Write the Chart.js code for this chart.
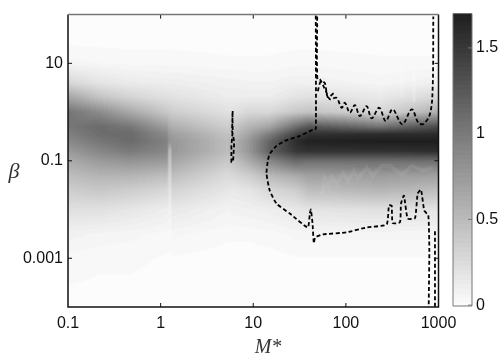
<!DOCTYPE html>
<html lang="en-US">
  <head>
    <meta charset="utf-8" />
    <title>M* beta map</title>
    <style>
      html, body { margin: 0; background: #fff; }
      .wrap { position: relative; width: 498px; height: 363px; overflow: hidden; }
      canvas { position: absolute; top: 0; }
    </style>
  </head>
  <body>
    <div class="wrap">
      <canvas id="map" width="498" height="363" style="left:0"></canvas>
      <canvas id="bar" width="58" height="363" style="left:440px"></canvas>
    </div>
  <script src="https://cdn.jsdelivr.net/npm/chart.js@4.4.0/dist/chart.umd.min.js"></script>
  <script>
    // tick labels
    const xTickValues = [0.1, 1, 10, 100, 1000];
    const xTickLabels = ["0.1", "1", "10", "100", "1000"];
    const yTickValues = [10, 0.1, 0.001];
    const yTickLabels = ["10", "0.1", "0.001"];
    const barTickValues = [0, 0.5, 1, 1.5];
    const barTickLabels = ["0", "0.5", "1", "1.5"];

    // heat map: columns are log10(M*), rows are log10(beta)
    const logMColumns = [-1, -0.66, -0.33, 0.07, 0.09, 0.115, 0.12, 0.72, 0.78, 0.96, 1.18, 1.46, 1.6, 2.37, 3];
    const logBetaRows = [2, 1.5, 1, 0.6, 0.3, 0, -0.3, -0.45, -0.6, -0.8, -1, -1.3, -1.6, -2, -2.5, -3, -4];
    const heatValues = [
      [0, 0, 0.05, 0.28, 0.67, 1.03, 1.02, 0.95, 0.88, 0.75, 0.62, 0.48, 0.36, 0.21, 0.08, 0.03, 0],
      [0, 0, 0.04, 0.18, 0.44, 0.86, 1.11, 1.09, 1.03, 0.90, 0.75, 0.55, 0.40, 0.21, 0.06, 0.02, 0],
      [0, 0, 0.03, 0.13, 0.31, 0.63, 1.02, 1.12, 1.11, 1.00, 0.80, 0.55, 0.36, 0.17, 0.05, 0.02, 0],
      [0, 0, 0.03, 0.11, 0.21, 0.40, 0.71, 0.86, 0.94, 0.90, 0.75, 0.48, 0.28, 0.11, 0.03, 0.01, 0],
      [0, 0, 0.03, 0.11, 0.21, 0.38, 0.62, 0.74, 0.80, 0.52, 0.44, 0.31, 0.20, 0.09, 0.03, 0.01, 0],
      [0, 0, 0.03, 0.11, 0.21, 0.38, 0.62, 0.74, 0.80, 0.52, 0.44, 0.31, 0.20, 0.09, 0.03, 0.01, 0],
      [0, 0, 0.03, 0.11, 0.20, 0.36, 0.59, 0.71, 0.78, 0.77, 0.67, 0.48, 0.31, 0.15, 0.05, 0.01, 0],
      [0, 0, 0.02, 0.08, 0.12, 0.21, 0.36, 0.44, 0.49, 0.49, 0.40, 0.26, 0.17, 0.07, 0.02, 0, 0],
      [0, 0, 0.02, 0.08, 0.12, 0.21, 0.40, 0.48, 0.55, 0.55, 0.44, 0.28, 0.15, 0.08, 0.02, 0, 0],
      [0, 0, 0.02, 0.07, 0.12, 0.28, 0.55, 0.67, 0.78, 0.78, 0.63, 0.36, 0.18, 0.09, 0.02, 0, 0],
      [0, 0, 0.02, 0.07, 0.12, 0.28, 0.67, 0.97, 1.17, 1.20, 0.90, 0.52, 0.28, 0.11, 0.03, 0, 0],
      [0, 0, 0.03, 0.09, 0.19, 0.40, 1.09, 1.40, 1.59, 1.51, 1.13, 0.63, 0.36, 0.15, 0.05, 0.01, 0],
      [0, 0, 0.03, 0.09, 0.21, 0.44, 1.28, 1.55, 1.68, 1.55, 1.09, 0.70, 0.48, 0.18, 0.05, 0.01, 0],
      [0, 0, 0.02, 0.05, 0.15, 0.28, 1.05, 1.59, 1.70, 1.55, 1.09, 0.74, 0.55, 0.21, 0.05, 0.01, 0],
      [0, 0, 0.02, 0.09, 0.28, 0.59, 1.36, 1.59, 1.70, 1.59, 1.09, 0.70, 0.48, 0.18, 0.05, 0.01, 0]
    ];

    // dashed contours, log10(M*) and log10(beta)
    const leftContourLogM = [1.675, 1.676, 1.654, 1.503, 1.341, 1.251, 1.178, 1.157, 1.143, 1.178, 1.251, 1.395, 1.589, 1.611, 1.622, 1.640, 1.654, 1.668, 1.751, 2.008, 2.224, 2.440, 2.465, 2.494, 2.505, 2.584, 2.595, 2.627, 2.667, 2.746, 2.775, 2.811, 2.846, 2.890, 2.901, 2.894];
    const leftContourLogBeta = [1.980, -0.347, -0.353, -0.490, -0.592, -0.694, -0.857, -1, -1.265, -1.612, -1.878, -2.082, -2.367, -2.082, -2, -2.286, -2.694, -2.571, -2.510, -2.469, -2.367, -2.306, -1.918, -1.918, -2.280, -2.259, -1.878, -1.714, -2.184, -2.178, -1.673, -1.592, -2.020, -2.122, -2.837, -3.994];
    const upperContourLogM = [1.690, 1.692, 1.719, 1.784, 1.827, 1.899, 1.954, 1.989, 2.043, 2.097, 2.151, 2.224, 2.278, 2.360, 2.430, 2.505, 2.609, 2.711, 2.782, 2.836, 2.908, 2.937, 2.944];
    const upperContourLogBeta = [1.959, 0.673, 0.673, 0.429, 0.265, 0.292, 0.088, 0.190, -0.014, 0.143, -0.082, 0.122, -0.129, 0.088, -0.184, 0.055, -0.251, 0.055, -0.218, -0.245, -0.041, 0.496, 1.959];
    const branchContourLogM = [1.697, 1.730, 1.773, 1.805, 1.870];
    const branchContourLogBeta = [0.429, 0.633, 0.592, 0.306, 0.388];
    const loopContourLogM = [0.778, 0.771, 0.795, 0.782, 0.764, 0.764, 0.778, 0.775];
    const loopContourLogBeta = [0.020, -0.388, -0.612, -1.020, -1.020, -0.694, -0.388, 0.020];
    const cornerContourLogM = [2.962, 2.962, 3];
    const cornerContourLogBeta = [-3.994, -2.463, -2.463];

    // pale saw-tooth ridge under the band, and two pale streaks above it
    const ridgeLogM = [1.751, 1.773, 1.816, 1.849, 1.903, 1.968, 2.022, 2.086, 2.130, 2.227, 2.292, 2.389, 2.476, 2.605, 2.714, 2.832, 2.941];
    const ridgeLogBeta = [-1.673, -1.367, -1.531, -1.327, -1.469, -1.245, -1.408, -1.204, -1.367, -1.143, -1.306, -1.102, -1.102, -1.286, -1.102, -1.204, -1.143];
    const streakOneLogM = [2.605, 2.605];
    const streakOneLogBeta = [1.4, 0.3];
    const streakTwoLogM = [2.735, 2.735];
    const streakTwoLogBeta = [1.0, 0.2];

    const FONT = "'Liberation Sans', Helvetica, Arial, sans-serif";
    const SERIF = "'Liberation Serif', serif";
    const LEVELS = 64;

    // same look as colormap(1-gray) with 64 steps
    function grayFor(v) {
      let level = Math.round(Math.min(Math.max(v, 0), 1.7) / 1.7 * (LEVELS - 1)) / (LEVELS - 1);
      return Math.round(252 - level * 222);
    }

    function heatAt(logM, logBeta) {
      let c = 0;
      while (c < logMColumns.length - 2 && logM > logMColumns[c + 1]) c++;
      let r = 0;
      while (r < logBetaRows.length - 2 && logBeta < logBetaRows[r + 1]) r++;
      let tx = (logM - logMColumns[c]) / (logMColumns[c + 1] - logMColumns[c]);
      let ty = (logBeta - logBetaRows[r]) / (logBetaRows[r + 1] - logBetaRows[r]);
      tx = Math.min(Math.max(tx, 0), 1);
      ty = Math.min(Math.max(ty, 0), 1);
      let a = heatValues[c][r] * (1 - ty) + heatValues[c][r + 1] * ty;
      let b = heatValues[c + 1][r] * (1 - ty) + heatValues[c + 1][r + 1] * ty;
      return a * (1 - tx) + b * tx;
    }

    const heatPlugin = {
      id: "heat",
      beforeDatasetsDraw(chart) {
        const { ctx, chartArea: area, scales } = chart;
        let w = Math.ceil(area.right - area.left);
        let h = Math.ceil(area.bottom - area.top);
        let off = document.createElement("canvas");
        off.width = w;
        off.height = h;
        let offCtx = off.getContext("2d");
        let img = offCtx.createImageData(w, h);
        for (let j = 0; j < h; j++) {
          let logBeta = Math.log10(scales.y.getValueForPixel(area.top + j + 0.5));
          for (let i = 0; i < w; i++) {
            let logM = Math.log10(scales.x.getValueForPixel(area.left + i + 0.5));
            let g = grayFor(heatAt(logM, logBeta));
            let k = (j * w + i) * 4;
            img.data[k] = img.data[k + 1] = img.data[k + 2] = g;
            img.data[k + 3] = 255;
          }
        }
        offCtx.putImageData(img, 0, 0);
        ctx.drawImage(off, area.left, area.top);
      }
    };

    const framePlugin = {
      id: "frame",
      afterDatasetsDraw(chart) {
        const { ctx, chartArea: area, scales } = chart;
        ctx.save();
        ctx.lineWidth = 1;
        ctx.strokeStyle = "#111";
        ctx.beginPath();
        xTickValues.slice(1, -1).forEach((v) => {
          let px = scales.x.getPixelForValue(v);
          ctx.moveTo(px, area.bottom); ctx.lineTo(px, area.bottom - 4);
          ctx.moveTo(px, area.top); ctx.lineTo(px, area.top + 4);
        });
        yTickValues.forEach((v) => {
          let py = scales.y.getPixelForValue(v);
          ctx.moveTo(area.left, py); ctx.lineTo(area.left + 4, py);
          ctx.moveTo(area.right, py); ctx.lineTo(area.right - 4, py);
        });
        ctx.stroke();
        ctx.lineWidth = 1.5;
        ctx.strokeStyle = "#111";
        ctx.beginPath();
        ctx.moveTo(area.right, area.top);
        ctx.lineTo(area.right, area.bottom);
        ctx.lineTo(area.left, area.bottom);
        ctx.lineTo(area.left, area.top);
        ctx.stroke();
        ctx.strokeStyle = "#777";
        ctx.beginPath();
        ctx.moveTo(area.left, area.top);
        ctx.lineTo(area.right, area.top);
        ctx.stroke();
        // both axis names sit off the usual title spots, beta stays upright
        ctx.fillStyle = "#333";
        ctx.textAlign = "center";
        ctx.textBaseline = "middle";
        ctx.font = "italic 22px " + SERIF;
        ctx.fillText("\u03b2", 14, 172);
        ctx.font = "italic 20px " + SERIF;
        ctx.fillText("M*", 268, 348);
        ctx.restore();
      }
    };

    function contour(logM, logBeta, tension) {
      return {
        data: logM.map((m, i) => ({ x: Math.pow(10, m), y: Math.pow(10, logBeta[i]) })),
        showLine: true,
        borderColor: "#000",
        borderWidth: 1.8,
        borderDash: [4, 2.5],
        pointRadius: 0,
        tension: tension
      };
    }

    function paleLine(logM, logBeta, color, width) {
      return {
        data: logM.map((m, i) => ({ x: Math.pow(10, m), y: Math.pow(10, logBeta[i]) })),
        showLine: true,
        borderColor: color,
        borderWidth: width,
        pointRadius: 0,
        tension: 0
      };
    }

    new Chart(document.getElementById("map"), {
      type: "scatter",
      data: {
        datasets: [
          contour(leftContourLogM, leftContourLogBeta, 0.15),
          contour(upperContourLogM, upperContourLogBeta, 0.35),
          contour(branchContourLogM, branchContourLogBeta, 0.3),
          contour(loopContourLogM, loopContourLogBeta, 0),
          contour(cornerContourLogM, cornerContourLogBeta, 0),
          paleLine(ridgeLogM, ridgeLogBeta, "rgba(255,255,255,0.07)", 4),
          paleLine(streakOneLogM, streakOneLogBeta, "rgba(255,255,255,0.2)", 3),
          paleLine(streakTwoLogM, streakTwoLogBeta, "rgba(255,255,255,0.2)", 3)
        ]
      },
      plugins: [heatPlugin, framePlugin],
      options: {
        responsive: false,
        animation: false,
        layout: { padding: { top: 13, right: 59.5, left: 0, bottom: 0 } },
        plugins: { legend: { display: false }, tooltip: { enabled: false } },
        scales: {
          x: {
            type: "logarithmic",
            min: 0.1,
            max: 1000,
            grid: { display: false, drawTicks: false },
            border: { display: false },
            afterBuildTicks: (axis) => { axis.ticks = xTickValues.map((value) => ({ value })); },
            afterFit: (axis) => { axis.height = 56; },
            ticks: {
              autoSkip: false,
              maxRotation: 0,
              padding: 7,
              color: "#111",
              font: { family: FONT, size: 16 },
              callback: (value, i) => xTickLabels[i]
            }
          },
          y: {
            type: "logarithmic",
            min: 0.0001,
            max: 100,
            grid: { display: false, drawTicks: false },
            border: { display: false },
            afterBuildTicks: (axis) => { axis.ticks = yTickValues.map((value) => ({ value })); },
            afterFit: (axis) => { axis.width = 68; },
            ticks: {
              autoSkip: false,
              padding: 5,
              color: "#111",
              font: { family: FONT, size: 16 },
              callback: (value, i) => yTickLabels[i]
            }
          }
        }
      }
    });

    const barPlugin = {
      id: "barFill",
      beforeDatasetsDraw(chart) {
        const { ctx, chartArea: area, scales } = chart;
        for (let py = Math.floor(area.top); py < area.bottom; py++) {
          let g = grayFor(scales.y.getValueForPixel(py + 0.5));
          ctx.fillStyle = `rgb(${g},${g},${g})`;
          ctx.fillRect(area.left, py, area.right - area.left, 1);
        }
      },
      afterDatasetsDraw(chart) {
        const { ctx, chartArea: area, scales } = chart;
        ctx.save();
        ctx.strokeStyle = "#777";
        ctx.lineWidth = 1;
        ctx.beginPath();
        barTickValues.forEach((v) => {
          let py = scales.y.getPixelForValue(v);
          ctx.moveTo(area.right, py); ctx.lineTo(area.right - 4, py);
        });
        ctx.rect(area.left, area.top, area.right - area.left, area.bottom - area.top);
        ctx.stroke();
        ctx.restore();
      }
    };

    new Chart(document.getElementById("bar"), {
      type: "scatter",
      data: { datasets: [] },
      plugins: [barPlugin],
      options: {
        responsive: false,
        animation: false,
        layout: { padding: { top: 13, bottom: 57, left: 13, right: 0 } },
        plugins: { legend: { display: false }, tooltip: { enabled: false } },
        scales: {
          x: { display: false, min: 0, max: 1 },
          y: {
            position: "right",
            min: -0.005,
            max: 1.7,
            grid: { display: false, drawTicks: false },
            border: { display: false },
            afterBuildTicks: (axis) => { axis.ticks = barTickValues.map((value) => ({ value })); },
            afterFit: (axis) => { axis.width = 26; },
            ticks: {
              autoSkip: false,
              padding: 4,
              color: "#111",
              font: { family: FONT, size: 16 },
              callback: (value, i) => barTickLabels[i]
            }
          }
        }
      }
    });
  </script>
  </body>
</html>
